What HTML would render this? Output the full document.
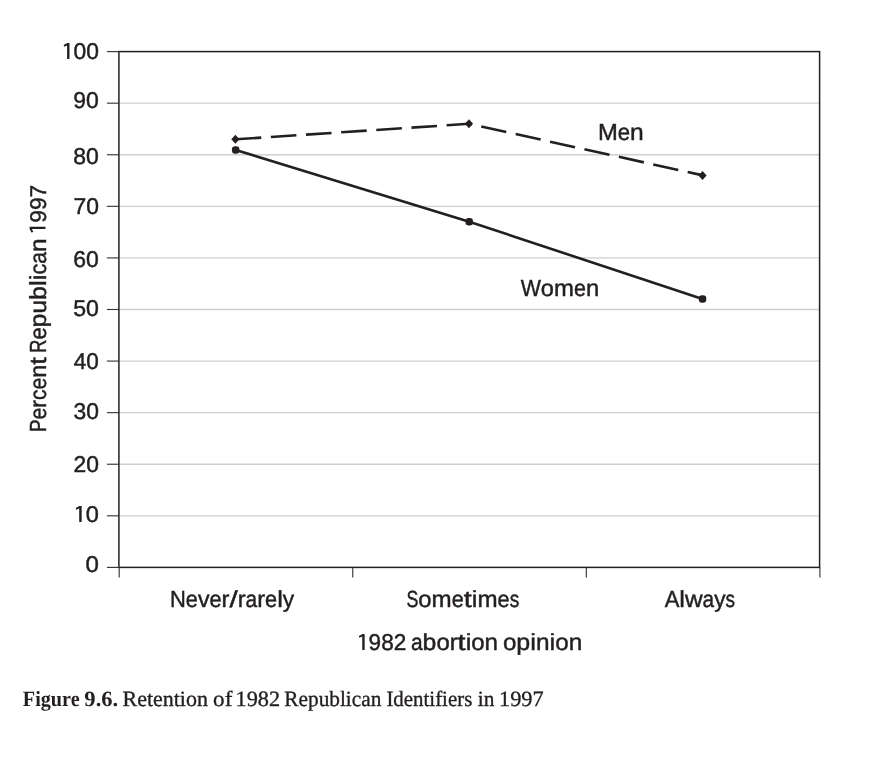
<!DOCTYPE html>
<html>
<head>
<meta charset="utf-8">
<title>Figure 9.6</title>
<style>
html,body{margin:0;padding:0;background:#fff;}
body{width:870px;height:770px;overflow:hidden;font-family:"Liberation Sans",sans-serif;}
svg{display:block;will-change:transform;}
text{text-rendering:geometricPrecision;}
.s{font-family:"Liberation Sans",sans-serif;fill:#231f20;stroke:#231f20;stroke-width:0.45px;}
.c{font-family:"Liberation Serif",serif;fill:#231f20;stroke:#231f20;stroke-width:0.35px;}
.b{font-weight:bold;stroke:none;}
.h{fill:none;stroke:none;}
</style>
</head>
<body>
<svg width="870" height="770" viewBox="0 0 870 770">
<rect x="0" y="0" width="870" height="770" fill="#ffffff"/>
<!-- grid lines -->
<g stroke="#cdcfd0" stroke-width="1.3" fill="none">
<line x1="118.9" y1="103.18" x2="819.6" y2="103.18"/>
<line x1="118.9" y1="154.76" x2="819.6" y2="154.76"/>
<line x1="118.9" y1="206.34" x2="819.6" y2="206.34"/>
<line x1="118.9" y1="257.92" x2="819.6" y2="257.92"/>
<line x1="118.9" y1="309.5" x2="819.6" y2="309.5"/>
<line x1="118.9" y1="361.08" x2="819.6" y2="361.08"/>
<line x1="118.9" y1="412.66" x2="819.6" y2="412.66"/>
<line x1="118.9" y1="464.24" x2="819.6" y2="464.24"/>
<line x1="118.9" y1="515.82" x2="819.6" y2="515.82"/>
</g>
<!-- frame, ticks -->
<g stroke="#231f20" stroke-width="1.5" fill="none">
<rect x="118.9" y="51.6" width="700.7" height="515.8"/>
</g>
<g stroke="#3a3637" stroke-width="1.15" fill="none">
<line x1="106.9" y1="51.6" x2="118.9" y2="51.6"/>
<line x1="106.9" y1="103.18" x2="118.9" y2="103.18"/>
<line x1="106.9" y1="154.76" x2="118.9" y2="154.76"/>
<line x1="106.9" y1="206.34" x2="118.9" y2="206.34"/>
<line x1="106.9" y1="257.92" x2="118.9" y2="257.92"/>
<line x1="106.9" y1="309.5" x2="118.9" y2="309.5"/>
<line x1="106.9" y1="361.08" x2="118.9" y2="361.08"/>
<line x1="106.9" y1="412.66" x2="118.9" y2="412.66"/>
<line x1="106.9" y1="464.24" x2="118.9" y2="464.24"/>
<line x1="106.9" y1="515.82" x2="118.9" y2="515.82"/>
<line x1="106.9" y1="567.4" x2="118.9" y2="567.4"/>
<line x1="119.2" y1="567.4" x2="119.2" y2="577.4"/>
<line x1="352.77" y1="567.4" x2="352.77" y2="577.4"/>
<line x1="586.33" y1="567.4" x2="586.33" y2="577.4"/>
<line x1="819.9" y1="567.4" x2="819.9" y2="577.4"/>
</g>
<!-- y labels -->
<polygon points="69.49,59.0 69.49,43.09 67.41,43.09 63.7,44.9 64.12,46.83 67.09,45.38 67.09,59.0" fill="#231f20"/>
<text class="s" y="59"><tspan class="h" font-size="22.8" x="60.78" textLength="12.7" lengthAdjust="spacingAndGlyphs">1</tspan><tspan font-size="22.8" x="73.48" textLength="12.7" lengthAdjust="spacingAndGlyphs">0</tspan><tspan font-size="22.8" x="86.19" textLength="12.7" lengthAdjust="spacingAndGlyphs">0</tspan></text>
<text class="s" y="108"><tspan font-size="22.8" x="73.3" textLength="12.8" lengthAdjust="spacingAndGlyphs">9</tspan><tspan font-size="22.8" x="86.1" textLength="12.8" lengthAdjust="spacingAndGlyphs">0</tspan></text>
<text class="s" y="164"><tspan font-size="22.8" x="73.3" textLength="12.8" lengthAdjust="spacingAndGlyphs">8</tspan><tspan font-size="22.8" x="86.1" textLength="12.8" lengthAdjust="spacingAndGlyphs">0</tspan></text>
<text class="s" y="214"><tspan font-size="22.8" x="73.43" textLength="12.73" lengthAdjust="spacingAndGlyphs">7</tspan><tspan font-size="22.8" x="86.16" textLength="12.73" lengthAdjust="spacingAndGlyphs">0</tspan></text>
<text class="s" y="267"><tspan font-size="22.8" x="73.3" textLength="12.8" lengthAdjust="spacingAndGlyphs">6</tspan><tspan font-size="22.8" x="86.1" textLength="12.8" lengthAdjust="spacingAndGlyphs">0</tspan></text>
<text class="s" y="316"><tspan font-size="22.8" x="73.17" textLength="12.87" lengthAdjust="spacingAndGlyphs">5</tspan><tspan font-size="22.8" x="86.04" textLength="12.87" lengthAdjust="spacingAndGlyphs">0</tspan></text>
<text class="s" y="369"><tspan font-size="22.8" x="73.81" textLength="12.53" lengthAdjust="spacingAndGlyphs">4</tspan><tspan font-size="22.8" x="86.34" textLength="12.53" lengthAdjust="spacingAndGlyphs">0</tspan></text>
<text class="s" y="419"><tspan font-size="22.8" x="73.43" textLength="12.73" lengthAdjust="spacingAndGlyphs">3</tspan><tspan font-size="22.8" x="86.16" textLength="12.73" lengthAdjust="spacingAndGlyphs">0</tspan></text>
<text class="s" y="472"><tspan font-size="22.8" x="73.43" textLength="12.73" lengthAdjust="spacingAndGlyphs">2</tspan><tspan font-size="22.8" x="86.16" textLength="12.73" lengthAdjust="spacingAndGlyphs">0</tspan></text>
<polygon points="81.68,522.0 81.68,506.09 79.54,506.09 75.7,507.9 76.13,509.83 79.2,508.38 79.2,522.0" fill="#231f20"/>
<text class="s" y="522"><tspan class="h" font-size="22.8" x="72.68" textLength="13.12" lengthAdjust="spacingAndGlyphs">1</tspan><tspan font-size="22.8" x="85.8" textLength="13.12" lengthAdjust="spacingAndGlyphs">0</tspan></text>
<text class="s" y="572"><tspan font-size="22.8" x="85.56" textLength="13.39" lengthAdjust="spacingAndGlyphs">0</tspan></text>
<!-- Women (solid) -->
<polyline points="235.68,149.9 469.25,221.71 702.52,299.03" fill="none" stroke="#231f20" stroke-width="2.6" stroke-linejoin="round"/>
<!-- Men (dashed) -->
<line x1="235.68" y1="139.29" x2="469.25" y2="123.81" stroke="#231f20" stroke-width="2.6" stroke-dasharray="25.6 9.63"/>
<line x1="469.25" y1="123.81" x2="702.82" y2="175.39" stroke="#231f20" stroke-width="2.6" stroke-dasharray="25.6 9.63" stroke-dashoffset="-12.3"/>
<!-- markers -->
<g fill="#231f20">
<rect x="231.93" y="146.15" width="7.5" height="7.5" rx="3.2"/>
<rect x="465.5" y="217.96" width="7.5" height="7.5" rx="3.2"/>
<rect x="698.77" y="295.28" width="7.5" height="7.5" rx="3.2"/>
<path d="M235.38 134.79 L239.48 139.29 L235.38 143.79 L231.28 139.29 Z"/>
<path d="M468.95 119.31 L473.05 123.81 L468.95 128.31 L464.85 123.81 Z"/>
<path d="M702.52 170.89 L706.62 175.39 L702.52 179.89 L698.42 175.39 Z"/>
</g>
<!-- text -->
<text class="s" y="140"><tspan font-size="23.3" x="597.92" textLength="19.84" lengthAdjust="spacingAndGlyphs">M</tspan><tspan font-size="23.3" x="617.77" textLength="12.36" lengthAdjust="spacingAndGlyphs">e</tspan><tspan font-size="23.3" x="630.13" textLength="13.7" lengthAdjust="spacingAndGlyphs">n</tspan></text>
<text class="s" y="296"><tspan font-size="23.3" x="520.66" textLength="20.22" lengthAdjust="spacingAndGlyphs">W</tspan><tspan font-size="23.3" x="540.88" textLength="13.12" lengthAdjust="spacingAndGlyphs">o</tspan><tspan font-size="23.3" x="554.0" textLength="19.93" lengthAdjust="spacingAndGlyphs">m</tspan><tspan font-size="23.3" x="573.93" textLength="11.97" lengthAdjust="spacingAndGlyphs">e</tspan><tspan font-size="23.3" x="585.91" textLength="13.26" lengthAdjust="spacingAndGlyphs">n</tspan></text>
<text class="s" y="607"><tspan font-size="23.3" x="169.97" textLength="15.86" lengthAdjust="spacingAndGlyphs">N</tspan><tspan font-size="23.3" x="185.83" textLength="12.08" lengthAdjust="spacingAndGlyphs">e</tspan><tspan font-size="23.3" x="197.9" textLength="11.59" lengthAdjust="spacingAndGlyphs">v</tspan><tspan font-size="23.3" x="209.5" textLength="12.08" lengthAdjust="spacingAndGlyphs">e</tspan><tspan font-size="23.3" x="221.57" textLength="7.88" lengthAdjust="spacingAndGlyphs">r</tspan><tspan font-size="23.3" x="229.46" textLength="8.27" lengthAdjust="spacingAndGlyphs">/</tspan><tspan font-size="23.3" x="237.72" textLength="7.88" lengthAdjust="spacingAndGlyphs">r</tspan><tspan font-size="23.3" x="245.6" textLength="11.62" lengthAdjust="spacingAndGlyphs">a</tspan><tspan font-size="23.3" x="257.22" textLength="7.88" lengthAdjust="spacingAndGlyphs">r</tspan><tspan font-size="23.3" x="265.1" textLength="12.08" lengthAdjust="spacingAndGlyphs">e</tspan><tspan font-size="23.3" x="277.18" textLength="5.69" lengthAdjust="spacingAndGlyphs">l</tspan><tspan font-size="23.3" x="282.87" textLength="11.35" lengthAdjust="spacingAndGlyphs">y</tspan></text>
<text class="s" y="607"><tspan font-size="23.3" x="406.43" textLength="11.9" lengthAdjust="spacingAndGlyphs">S</tspan><tspan font-size="23.3" x="418.34" textLength="13.25" lengthAdjust="spacingAndGlyphs">o</tspan><tspan font-size="23.3" x="431.59" textLength="20.13" lengthAdjust="spacingAndGlyphs">m</tspan><tspan font-size="23.3" x="451.72" textLength="12.09" lengthAdjust="spacingAndGlyphs">e</tspan><tspan font-size="23.3" x="463.82" textLength="7.99" lengthAdjust="spacingAndGlyphs">t</tspan><tspan font-size="23.3" x="471.81" textLength="5.65" lengthAdjust="spacingAndGlyphs">i</tspan><tspan font-size="23.3" x="477.46" textLength="20.13" lengthAdjust="spacingAndGlyphs">m</tspan><tspan font-size="23.3" x="497.59" textLength="12.09" lengthAdjust="spacingAndGlyphs">e</tspan><tspan font-size="23.3" x="509.69" textLength="9.56" lengthAdjust="spacingAndGlyphs">s</tspan></text>
<text class="s" y="607"><tspan font-size="23.3" x="664.68" textLength="14.66" lengthAdjust="spacingAndGlyphs">A</tspan><tspan font-size="23.3" x="679.34" textLength="5.65" lengthAdjust="spacingAndGlyphs">l</tspan><tspan font-size="23.3" x="684.99" textLength="17.63" lengthAdjust="spacingAndGlyphs">w</tspan><tspan font-size="23.3" x="702.62" textLength="11.55" lengthAdjust="spacingAndGlyphs">a</tspan><tspan font-size="23.3" x="714.17" textLength="11.28" lengthAdjust="spacingAndGlyphs">y</tspan><tspan font-size="23.3" x="725.45" textLength="9.49" lengthAdjust="spacingAndGlyphs">s</tspan></text>
<polygon points="364.63,650.0 364.63,634.09 362.57,634.09 358.9,635.9 359.32,637.83 362.26,636.38 362.26,650.0" fill="#231f20"/>
<text class="s" y="650"><tspan class="h" font-size="22.8" x="356.01" textLength="12.57" lengthAdjust="spacingAndGlyphs">1</tspan><tspan font-size="22.8" x="368.58" textLength="12.57" lengthAdjust="spacingAndGlyphs">9</tspan><tspan font-size="22.8" x="381.14" textLength="12.57" lengthAdjust="spacingAndGlyphs">8</tspan><tspan font-size="22.8" x="393.71" textLength="12.57" lengthAdjust="spacingAndGlyphs">2</tspan><tspan> </tspan><tspan font-size="23.3" x="410.93" textLength="11.68" lengthAdjust="spacingAndGlyphs">a</tspan><tspan font-size="23.3" x="422.61" textLength="13.79" lengthAdjust="spacingAndGlyphs">b</tspan><tspan font-size="23.3" x="436.41" textLength="13.31" lengthAdjust="spacingAndGlyphs">o</tspan><tspan font-size="23.3" x="449.71" textLength="7.93" lengthAdjust="spacingAndGlyphs">r</tspan><tspan font-size="23.3" x="457.64" textLength="8.02" lengthAdjust="spacingAndGlyphs">t</tspan><tspan font-size="23.3" x="465.66" textLength="5.67" lengthAdjust="spacingAndGlyphs">i</tspan><tspan font-size="23.3" x="471.34" textLength="13.31" lengthAdjust="spacingAndGlyphs">o</tspan><tspan font-size="23.3" x="484.64" textLength="13.45" lengthAdjust="spacingAndGlyphs">n</tspan><tspan> </tspan><tspan font-size="23.3" x="502.92" textLength="13.43" lengthAdjust="spacingAndGlyphs">o</tspan><tspan font-size="23.3" x="516.35" textLength="13.92" lengthAdjust="spacingAndGlyphs">p</tspan><tspan font-size="23.3" x="530.27" textLength="5.72" lengthAdjust="spacingAndGlyphs">i</tspan><tspan font-size="23.3" x="536.0" textLength="13.58" lengthAdjust="spacingAndGlyphs">n</tspan><tspan font-size="23.3" x="549.58" textLength="5.72" lengthAdjust="spacingAndGlyphs">i</tspan><tspan font-size="23.3" x="555.3" textLength="13.43" lengthAdjust="spacingAndGlyphs">o</tspan><tspan font-size="23.3" x="568.73" textLength="13.58" lengthAdjust="spacingAndGlyphs">n</tspan></text>
<g transform="translate(45.5 431) rotate(-90)">
<polygon points="204.36,0.0 204.36,-15.91 202.29,-15.91 198.6,-14.1 199.02,-12.17 201.97,-13.62 201.97,0.0" fill="#231f20"/>
<text class="s" y="0"><tspan font-size="23.3" x="-0.98" textLength="12.48" lengthAdjust="spacingAndGlyphs">P</tspan><tspan font-size="23.3" x="11.5" textLength="11.75" lengthAdjust="spacingAndGlyphs">e</tspan><tspan font-size="23.3" x="23.25" textLength="7.67" lengthAdjust="spacingAndGlyphs">r</tspan><tspan font-size="23.3" x="30.92" textLength="10.51" lengthAdjust="spacingAndGlyphs">c</tspan><tspan font-size="23.3" x="41.43" textLength="11.75" lengthAdjust="spacingAndGlyphs">e</tspan><tspan font-size="23.3" x="53.18" textLength="13.02" lengthAdjust="spacingAndGlyphs">n</tspan><tspan font-size="23.3" x="66.2" textLength="7.76" lengthAdjust="spacingAndGlyphs">t</tspan><tspan> </tspan><tspan font-size="23.3" x="78.24" textLength="13.15" lengthAdjust="spacingAndGlyphs">R</tspan><tspan font-size="23.3" x="91.39" textLength="12.25" lengthAdjust="spacingAndGlyphs">e</tspan><tspan font-size="23.3" x="103.64" textLength="13.91" lengthAdjust="spacingAndGlyphs">p</tspan><tspan font-size="23.3" x="117.55" textLength="13.47" lengthAdjust="spacingAndGlyphs">u</tspan><tspan font-size="23.3" x="131.02" textLength="13.91" lengthAdjust="spacingAndGlyphs">b</tspan><tspan font-size="23.3" x="144.92" textLength="5.77" lengthAdjust="spacingAndGlyphs">l</tspan><tspan font-size="23.3" x="150.69" textLength="5.72" lengthAdjust="spacingAndGlyphs">i</tspan><tspan font-size="23.3" x="156.41" textLength="10.95" lengthAdjust="spacingAndGlyphs">c</tspan><tspan font-size="23.3" x="167.36" textLength="11.78" lengthAdjust="spacingAndGlyphs">a</tspan><tspan font-size="23.3" x="179.14" textLength="13.57" lengthAdjust="spacingAndGlyphs">n</tspan><tspan> </tspan><tspan class="h" font-size="22.8" x="195.69" textLength="12.64" lengthAdjust="spacingAndGlyphs">1</tspan><tspan font-size="22.8" x="208.33" textLength="12.64" lengthAdjust="spacingAndGlyphs">9</tspan><tspan font-size="22.8" x="220.97" textLength="12.64" lengthAdjust="spacingAndGlyphs">9</tspan><tspan font-size="22.8" x="233.6" textLength="12.64" lengthAdjust="spacingAndGlyphs">7</tspan></text>
</g>
<!-- caption -->
<text class="c" font-size="21.8" y="706"><tspan class="b" x="22.86" textLength="56.76" lengthAdjust="spacingAndGlyphs">Figure</tspan><tspan> </tspan><tspan class="b" x="84.38" textLength="33.81" lengthAdjust="spacingAndGlyphs">9.6.</tspan><tspan> </tspan><tspan x="122.54" textLength="85.42" lengthAdjust="spacingAndGlyphs">Retention</tspan><tspan> </tspan><tspan x="213.1" textLength="19.23" lengthAdjust="spacingAndGlyphs">of</tspan><tspan> </tspan><tspan x="235.52" textLength="44.54" lengthAdjust="spacingAndGlyphs">1982</tspan><tspan> </tspan><tspan x="284.36" textLength="96.99" lengthAdjust="spacingAndGlyphs">Republican</tspan><tspan> </tspan><tspan x="386.42" textLength="85.86" lengthAdjust="spacingAndGlyphs">Identifiers</tspan><tspan> </tspan><tspan x="477.83" textLength="16.62" lengthAdjust="spacingAndGlyphs">in</tspan><tspan> </tspan><tspan x="499.01" textLength="44.66" lengthAdjust="spacingAndGlyphs">1997</tspan></text>
</svg>
</body>
</html>
